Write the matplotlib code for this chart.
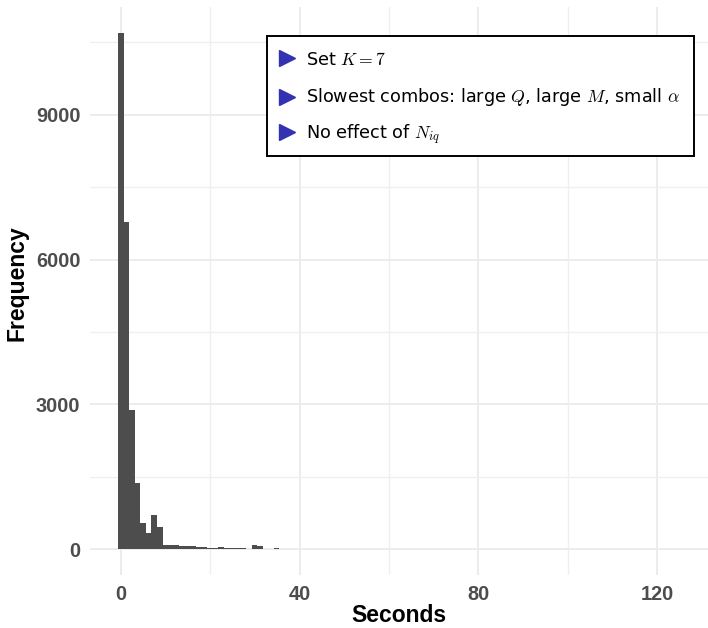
import numpy as np
import matplotlib
matplotlib.use("Agg")
import matplotlib.pyplot as plt
from matplotlib.patches import Rectangle
from matplotlib.lines import Line2D

plt.rcParams['mathtext.fontset'] = 'cm'

# histogram of run times (seconds), bins
bin_width = 1.245
counts = [10700, 6790, 2885, 1365, 535, 325, 712, 470, 90, 90,
          90, 76, 62, 76, 48, 41, 28, 28, 41, 21,
          21, 21, 21, 7, 97, 69, 14, 7, 28, 14,
          10, 6, 4, 5, 12, 10, 4, 3, 5, 10,
          8, 12, 10, 4, 3, 2, 3, 5, 4, 4,
          2, 2, 3, 2, 2, 3, 2, 2, 3, 2,
          2, 3, 2, 4, 5, 4, 5, 4, 3, 2,
          2, 3, 2, 2, 3, 2, 2, 3, 2, 2,
          3, 2, 3, 4, 6, 5, 6, 5, 4, 3,
          2, 3, 3, 5, 6, 5, 6, 5, 4, 3,
          2]
centers = np.arange(len(counts)) * bin_width

x_ticks = [0, 40, 80, 120]
x_minor = [20, 60, 100]
y_ticks = [0, 3000, 6000, 9000]
y_minor = [1500, 4500, 7500, 10500]

notes = [r"Set $K = 7$",
         r"Slowest combos: large $Q$, large $M$, small $\alpha$",
         r"No effect of $N_{iq}$"]

W, H = 708, 628
fig = plt.figure(figsize=(W / 100, H / 100), dpi=100)
ax = fig.add_axes([90 / W, 1 - 575 / H, 618 / W, 568 / H])

ax.bar(centers, counts, width=bin_width, color='#4D4D4D', linewidth=0, zorder=3)

lo = -bin_width / 2
hi = centers[-1] + bin_width / 2
pad = (hi - lo) * 0.05
ax.set_xlim(lo - pad, hi + pad)
ax.set_ylim(-max(counts) * 0.05, max(counts) * 1.05)

ax.set_xticks(x_ticks)
ax.set_xticks(x_minor, minor=True)
ax.set_yticks(y_ticks)
ax.set_yticks(y_minor, minor=True)
ax.grid(which='major', color='#EBEBEB', linewidth=1.3, zorder=0)
ax.grid(which='minor', color='#EFEFEF', linewidth=0.9, zorder=0)
ax.set_axisbelow(True)
for s in ax.spines.values():
    s.set_visible(False)
ax.tick_params(which='both', length=0, pad=7)
for lab in ax.get_xticklabels() + ax.get_yticklabels():
    lab.set_fontfamily('Liberation Sans')
    lab.set_fontweight('bold')
    lab.set_fontsize(14.4)
    lab.set_color('#4D4D4D')

ax.set_xlabel('Seconds', fontfamily='Liberation Sans', fontweight='bold', fontsize=16.5)
ax.set_ylabel('Frequency', fontfamily='Liberation Sans', fontweight='bold', fontsize=16.5)
ax.xaxis.set_label_coords(0.5, (575 - 622) / 568)
ax.xaxis.label.set_va('baseline')
ax.yaxis.set_label_coords((17 - 90) / 618, 0.514)
ax.yaxis.label.set_va('center')

# annotation box
fig.add_artist(Rectangle((267 / W, 1 - 156 / H), 427 / W, 120 / H,
                         transform=fig.transFigure, facecolor='white',
                         edgecolor='black', linewidth=1.4, zorder=5))
marker_y = [58, 97, 132]
base_y = [65, 102.5, 139]
for note, my, by in zip(notes, marker_y, base_y):
    fig.add_artist(Line2D([287 / W], [1 - my / H], marker='>', markersize=11,
                          color='#3333B2', linewidth=0,
                          transform=fig.transFigure, zorder=6))
    fig.text(306 / W, 1 - by / H, note, fontsize=12.7, fontfamily='DejaVu Sans',
             va='baseline', ha='left', zorder=6)

fig.savefig('out.png', dpi=100)
